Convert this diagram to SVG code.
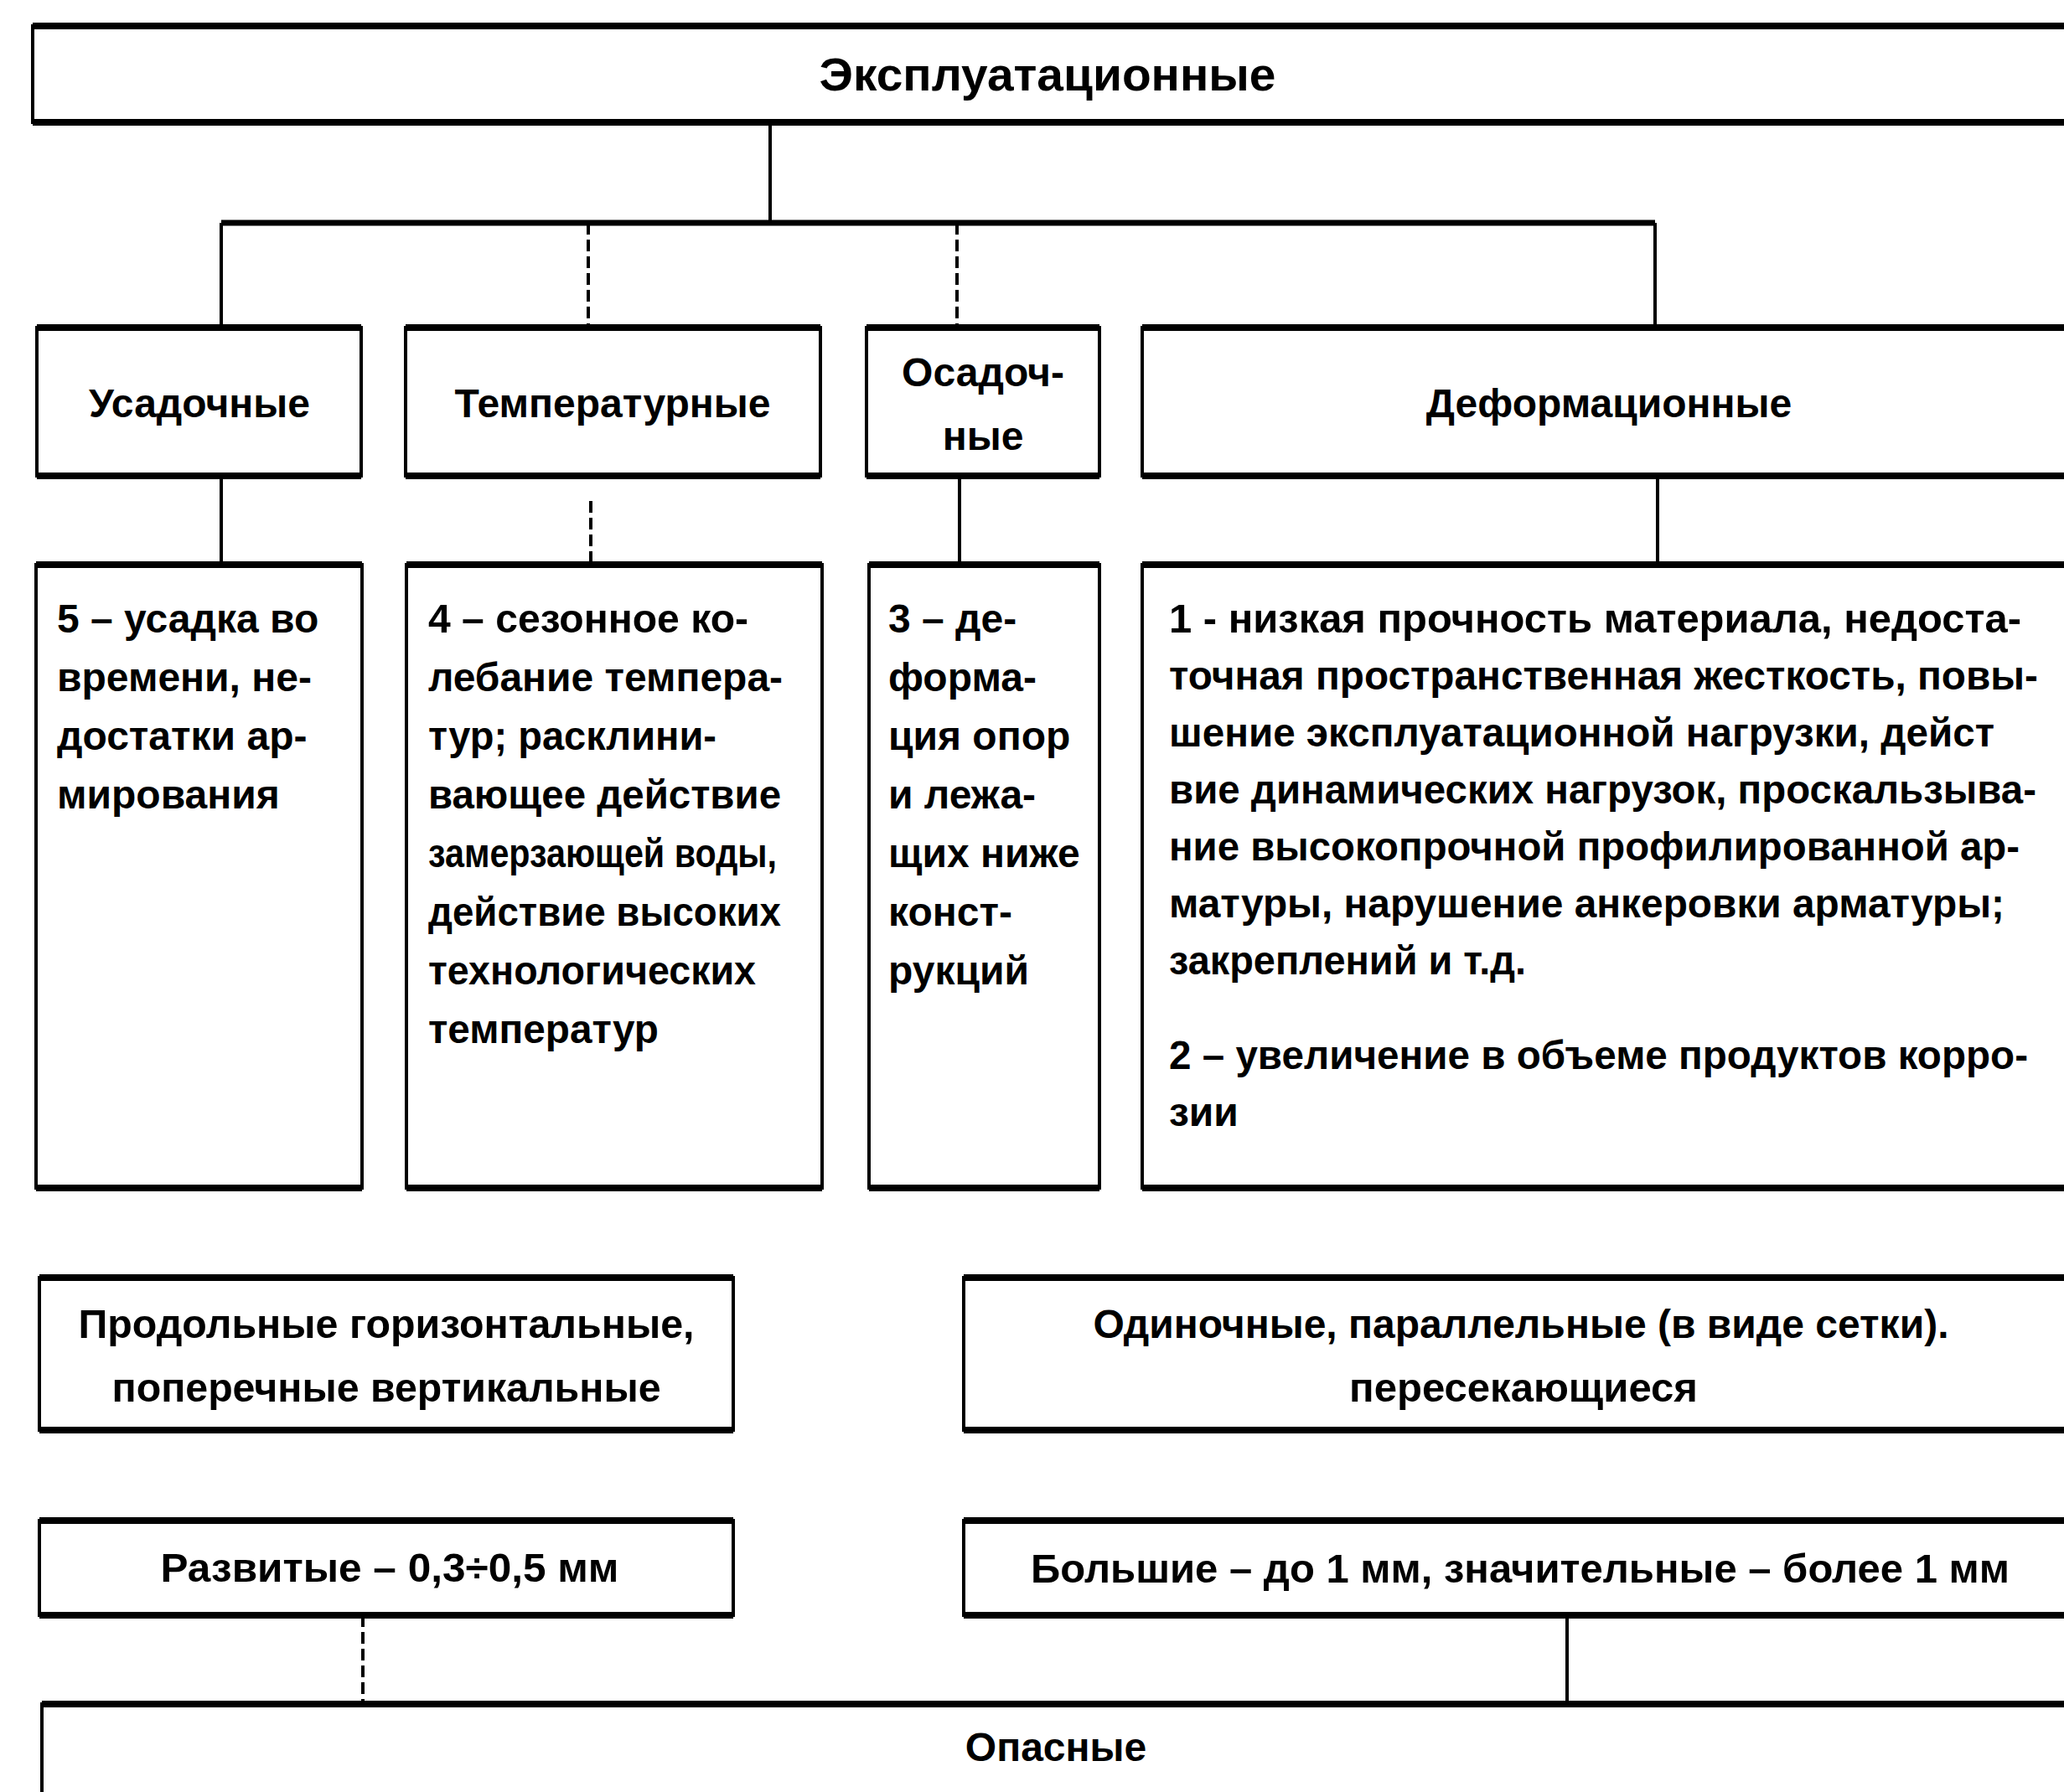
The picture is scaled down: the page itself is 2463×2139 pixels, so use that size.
<svg xmlns="http://www.w3.org/2000/svg" width="2463" height="2139" viewBox="0 0 2463 2139">
<style>
.box{fill:#fff;stroke:#000;stroke-width:4}
.edge{fill:none;stroke:#000;stroke-width:8}
.t{font-family:"Liberation Sans",Arial,sans-serif;font-weight:bold;font-size:48px;fill:#000}
.c{text-anchor:middle}
.conn{fill:none;stroke:#000;stroke-width:4}
.bus{stroke-width:7}
.dash{stroke-dasharray:14 6}
</style>
<rect x="0" y="0" width="2463" height="2139" fill="#fff"/>
<g id="connectors">
<path class="conn" d="M919 145V266"/>
<path class="conn bus" d="M264 266H1975"/>
<path class="conn" d="M264 266V391"/>
<path class="conn dash" d="M702 266V391"/>
<path class="conn dash" d="M1142 266V391"/>
<path class="conn" d="M1975 266V391"/>
<path class="conn" d="M264 569V674"/>
<path class="conn dash" d="M705 598V674"/>
<path class="conn" d="M1145 569V674"/>
<path class="conn" d="M1978 569V674"/>
<path class="conn dash" d="M433 1928V2034"/>
<path class="conn" d="M1870 1928V2034"/>
</g>
<g id="n_title">
<rect class="box" x="39" y="31" width="2431" height="115"/>
<path class="edge" d="M39 31H2470M39 146H2470"/>
<text class="t c" x="1250" y="108" style="font-size:56px" textLength="545" lengthAdjust="spacingAndGlyphs">Эксплуатационные</text>
</g>
<g id="n_usad">
<rect class="box" x="44" y="391" width="387" height="177"/>
<path class="edge" d="M44 391H431M44 568H431"/>
<text class="t c" x="238" y="498">Усадочные</text>
</g>
<g id="n_temp">
<rect class="box" x="484" y="391" width="495" height="177"/>
<path class="edge" d="M484 391H979M484 568H979"/>
<text class="t c" x="731" y="498">Температурные</text>
</g>
<g id="n_osad">
<rect class="box" x="1034" y="391" width="278" height="177"/>
<path class="edge" d="M1034 391H1312M1034 568H1312"/>
<text class="t c" x="1173" y="461">Осадоч-</text>
<text class="t c" x="1173" y="537">ные</text>
</g>
<g id="n_deform">
<rect class="box" x="1363" y="391" width="1110" height="177"/>
<path class="edge" d="M1363 391H2473M1363 568H2473"/>
<text class="t c" x="1920" y="498">Деформационные</text>
</g>
<g id="d_usad">
<rect class="box" x="43" y="674" width="389" height="744"/>
<path class="edge" d="M43 674H432M43 1418H432"/>
<text class="t" x="68" y="755">5 – усадка во</text>
<text class="t" x="68" y="825">времени, не-</text>
<text class="t" x="68" y="895">достатки ар-</text>
<text class="t" x="68" y="965">мирования</text>
</g>
<g id="d_temp">
<rect class="box" x="485" y="674" width="496" height="744"/>
<path class="edge" d="M485 674H981M485 1418H981"/>
<text class="t" x="511" y="755" textLength="382" lengthAdjust="spacingAndGlyphs">4 – сезонное ко-</text>
<text class="t" x="511" y="825" textLength="423" lengthAdjust="spacingAndGlyphs">лебание темпера-</text>
<text class="t" x="511" y="895" textLength="344" lengthAdjust="spacingAndGlyphs">тур; расклини-</text>
<text class="t" x="511" y="965" textLength="421" lengthAdjust="spacingAndGlyphs">вающее действие</text>
<text class="t" x="511" y="1035" textLength="416" lengthAdjust="spacingAndGlyphs">замерзающей воды,</text>
<text class="t" x="511" y="1105" textLength="421" lengthAdjust="spacingAndGlyphs">действие высоких</text>
<text class="t" x="511" y="1175" textLength="391" lengthAdjust="spacingAndGlyphs">технологических</text>
<text class="t" x="511" y="1245" textLength="275" lengthAdjust="spacingAndGlyphs">температур</text>
</g>
<g id="d_osad">
<rect class="box" x="1037" y="674" width="275" height="744"/>
<path class="edge" d="M1037 674H1312M1037 1418H1312"/>
<text class="t" x="1060" y="755">3 – де-</text>
<text class="t" x="1060" y="825">форма-</text>
<text class="t" x="1060" y="895">ция опор</text>
<text class="t" x="1060" y="965">и лежа-</text>
<text class="t" x="1060" y="1035">щих ниже</text>
<text class="t" x="1060" y="1105">конст-</text>
<text class="t" x="1060" y="1175">рукций</text>
</g>
<g id="d_deform">
<rect class="box" x="1363" y="674" width="1110" height="744"/>
<path class="edge" d="M1363 674H2473M1363 1418H2473"/>
<text class="t" x="1395" y="755" textLength="1017" lengthAdjust="spacingAndGlyphs">1 - низкая прочность материала, недоста-</text>
<text class="t" x="1395" y="823" textLength="1037" lengthAdjust="spacingAndGlyphs">точная пространственная жесткость, повы-</text>
<text class="t" x="1395" y="891" textLength="985" lengthAdjust="spacingAndGlyphs">шение эксплуатационной нагрузки, дейст</text>
<text class="t" x="1395" y="959" textLength="1035" lengthAdjust="spacingAndGlyphs">вие динамических нагрузок, проскальзыва-</text>
<text class="t" x="1395" y="1027" textLength="1015" lengthAdjust="spacingAndGlyphs">ние высокопрочной профилированной ар-</text>
<text class="t" x="1395" y="1095" textLength="997" lengthAdjust="spacingAndGlyphs">матуры, нарушение анкеровки арматуры;</text>
<text class="t" x="1395" y="1163" textLength="426" lengthAdjust="spacingAndGlyphs">закреплений и т.д.</text>
<text class="t" x="1395" y="1276" textLength="1025" lengthAdjust="spacingAndGlyphs">2 – увеличение в объеме продуктов корро-</text>
<text class="t" x="1395" y="1344">зии</text>
</g>
<g id="n_direction">
<rect class="box" x="47" y="1525" width="828" height="182"/>
<path class="edge" d="M47 1525H875M47 1707H875"/>
<text class="t c" x="461" y="1597" textLength="735" lengthAdjust="spacingAndGlyphs">Продольные  горизонтальные,</text>
<text class="t c" x="461" y="1673" textLength="655" lengthAdjust="spacingAndGlyphs">поперечные  вертикальные</text>
</g>
<g id="n_pattern">
<rect class="box" x="1150" y="1525" width="1330" height="182"/>
<path class="edge" d="M1150 1525H2480M1150 1707H2480"/>
<text class="t c" x="1815" y="1597" textLength="1021" lengthAdjust="spacingAndGlyphs">Одиночные, параллельные (в виде сетки).</text>
<text class="t c" x="1818" y="1673" textLength="416" lengthAdjust="spacingAndGlyphs">пересекающиеся</text>
</g>
<g id="n_developed">
<rect class="box" x="47" y="1815" width="828" height="113"/>
<path class="edge" d="M47 1815H875M47 1928H875"/>
<text class="t c" x="465" y="1888" textLength="547" lengthAdjust="spacingAndGlyphs">Развитые – 0,3÷0,5 мм</text>
</g>
<g id="n_large">
<rect class="box" x="1150" y="1815" width="1330" height="113"/>
<path class="edge" d="M1150 1815H2480M1150 1928H2480"/>
<text class="t c" x="1814" y="1889" textLength="1168" lengthAdjust="spacingAndGlyphs">Большие – до 1 мм, значительные – более 1 мм</text>
</g>
<g id="n_danger">
<rect class="box" x="50" y="2034" width="2421" height="200"/>
<path class="edge" d="M50 2034H2471"/>
<text class="t c" x="1260" y="2102">Опасные</text>
</g>
</svg>
